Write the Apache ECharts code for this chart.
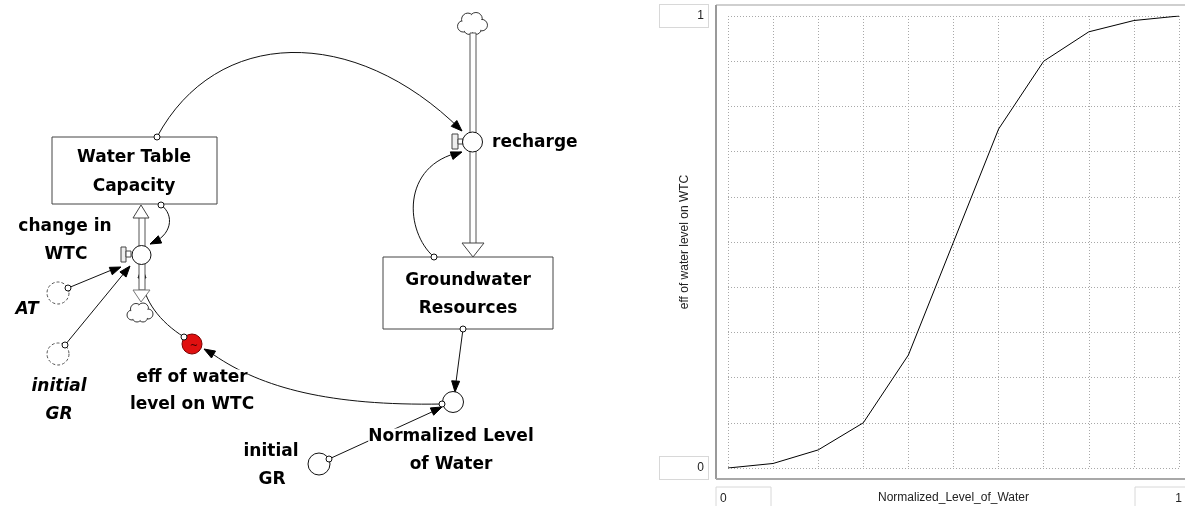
<!DOCTYPE html>
<html><head><meta charset="utf-8">
<script src="https://cdn.jsdelivr.net/npm/echarts@6/dist/echarts.min.js"></script>
<style>html,body{margin:0;padding:0;background:#fff}#c{width:1185px;height:506px}</style>
</head><body><div id="c"></div>
<script>
// ---- data (graphical function "eff of water level on WTC") ----
const normalizedLevel = [0, 0.1, 0.2, 0.3, 0.4, 0.5, 0.6, 0.7, 0.8, 0.9, 1.0];
const effOnWTC = [0.0, 0.01, 0.04, 0.10, 0.25, 0.50, 0.75, 0.90, 0.965, 0.99, 1.0];
const yTickLabels = ['0', '1'];
const xTickLabels = ['0', '1'];
const xAxisTitle = 'Normalized_Level_of_Water';
const yAxisTitle = 'eff of water level on WTC';
// ---- diagram labels ----
const stockLabels = [['Water Table', 'Capacity'], ['Groundwater', 'Resources']];
const flowLabels = [['change in', 'WTC'], ['recharge']];
const auxLabels = [['AT'], ['initial', 'GR'], ['eff of water', 'level on WTC'], ['initial', 'GR'], ['Normalized Level', 'of Water']];

const chart = echarts.init(document.getElementById('c'), null, {renderer: 'canvas'});
const axisFont = {fontFamily: 'Liberation Sans', fontSize: 12, color: '#222'};
const split = {show: true, lineStyle: {type: [1, 2], color: '#a8a8a8', width: 1}};
chart.setOption({
  animation: false,
  backgroundColor: '#fff',
  grid: {left: 728, top: 16, width: 451, height: 452, outerBoundsMode: 'none', containLabel: false},
  xAxis: {type: 'value', min: 0, max: 1, interval: 0.1, name: xAxisTitle, nameLocation: 'middle', nameGap: 24, nameMoveOverlap: false,
    nameTextStyle: axisFont, axisLine: {show: false}, axisTick: {show: false}, axisLabel: {show: false}, splitLine: split},
  yAxis: {type: 'value', min: 0, max: 1, interval: 0.1, name: yAxisTitle, nameLocation: 'middle', nameGap: 37, nameRotate: 90, nameMoveOverlap: false,
    nameTextStyle: axisFont, axisLine: {show: false}, axisTick: {show: false}, splitLine: split,
    axisLabel: {show: true, margin: 20,
      formatter: v => (Math.abs(v) < 1e-9 ? '{b|' + yTickLabels[0] + '}' : (Math.abs(v - 1) < 1e-9 ? '{b|' + yTickLabels[1] + '}' : '')),
      rich: {b: {width: 40, height: 16, padding: [3, 4, 3, 4], align: 'right', borderColor: '#d8d8d8', borderWidth: 1,
        backgroundColor: '#fff', fontFamily: 'Liberation Sans', fontSize: 12, color: '#222'}}}},
  series: [{type: 'line', data: normalizedLevel.map((x, i) => [x, effOnWTC[i]]), showSymbol: false, silent: true,
    lineStyle: {color: '#000', width: 1}}]
});

// ---- graphic helpers ----
const g = [];
function ln(x1, y1, x2, y2, w, c) { g.push({type: 'line', shape: {x1, y1, x2, y2}, style: {stroke: c || '#111', lineWidth: w || 1}}); }
function circ(cx, cy, r, st) { g.push({type: 'circle', shape: {cx, cy, r}, style: Object.assign({fill: '#fff', stroke: '#111', lineWidth: 1}, st || {})}); }
function rect(x, y, w, h, st) { g.push({type: 'rect', shape: {x, y, width: w, height: h}, style: Object.assign({fill: '#fff', stroke: '#333', lineWidth: 1}, st || {})}); }
function bez(p0, p1, p2, p3) { g.push({type: 'bezierCurve', shape: {x1: p0[0], y1: p0[1], cpx1: p1[0], cpy1: p1[1], cpx2: p2[0], cpy2: p2[1], x2: p3[0], y2: p3[1]}, style: {stroke: '#111', lineWidth: 1, fill: null}}); }
function head(x, y, fx, fy, len, wid) {
  len = len || 11; wid = wid || 8;
  const dx = x - fx, dy = y - fy, L = Math.hypot(dx, dy), ux = dx / L, uy = dy / L;
  const bx = x - ux * len, by = y - uy * len, px = -uy * wid / 2, py = ux * wid / 2;
  g.push({type: 'polygon', shape: {points: [[x, y], [bx + px, by + py], [bx - px, by - py]]}, style: {fill: '#000', stroke: '#000'}});
}
function poly(pts, st) { g.push({type: 'polygon', shape: {points: pts}, style: Object.assign({fill: '#fff', stroke: '#333', lineWidth: 1}, st || {})}); }
function txt(x, y, s, opt) {
  const st = Object.assign({text: s, font: 'bold 17px "DejaVu Sans"', fill: '#000', align: 'center', verticalAlign: 'middle'}, opt || {});
  st.textAlign = st.align; st.textVerticalAlign = st.verticalAlign;
  g.push({type: 'text', x, y, style: st});
}
function cloud(cx, cy, s) {
  const bumps = [[-8, 2, 5], [-4, -4, 5.5], [3, -4.5, 5.5], [8, 1, 5], [3, 4.5, 4.5], [-3, 4.5, 4.5]];
  bumps.forEach(b => circ(cx + b[0] * s, cy + b[1] * s, b[2] * s, {stroke: '#333'}));
  bumps.forEach(b => circ(cx + b[0] * s, cy + b[1] * s, b[2] * s - 1, {stroke: null, fill: '#fff'}));
  circ(cx, cy, 5 * s, {stroke: null, fill: '#fff'});
}
const ital = {font: 'italic bold 17px "DejaVu Sans"'};

// ---- chart frame ----
ln(716, 5, 1185, 5, 2, '#cfcfcf');
ln(716, 5, 716, 479, 2, '#9a9a9a');
ln(716, 479, 1185, 479, 2, '#a8a8a8');

// ---- connectors (drawn first, under nodes) ----
// Water Table Capacity -> recharge
bez([157, 137], [216, 27], [354, 24], [461, 130]); head(462, 131, 440, 110);
// Water Table Capacity -> change in WTC
bez([161, 205], [175, 215], [172, 236], [150, 244]); head(150, 244, 163, 238);
// Groundwater -> recharge
bez([434, 257], [405, 232], [400, 165], [461, 152]); head(462, 152, 445, 158);
// AT -> change in WTC
ln(68, 288, 114, 269); head(121, 267, 68, 288);
// initial GR -> change in WTC
ln(65, 345, 125, 272); head(130, 266, 65, 345);
// eff -> change in WTC
bez([184, 337], [160, 322], [143, 300], [142, 277]); head(142, 267, 142, 285);
// Normalized Level -> eff
bez([442, 404], [330, 406], [262, 388], [214, 355]); head(204, 349, 216, 356);
// initial GR -> Normalized Level
ln(329, 459, 434, 411); head(442, 407, 420, 417);
// Groundwater -> Normalized Level
ln(463, 329, 456, 382); head(455, 392, 456, 375);

// ---- stocks ----
rect(52, 137, 165, 67, {stroke: '#444'});
rect(383, 257, 170, 72, {stroke: '#444'});
txt(134, 158, stockLabels[0][0]); txt(134, 187, stockLabels[0][1]);
txt(468, 281, stockLabels[1][0]); txt(468, 309, stockLabels[1][1]);

// ---- recharge flow ----
cloud(472.5, 24, 1.15);
rect(470, 33, 6, 211, {stroke: '#555'});
poly([[462, 243], [484, 243], [473, 257]], {stroke: '#444'});
rect(452, 134, 6, 15, {stroke: '#444', fill: '#eee'});
rect(458, 139, 5, 5, {stroke: '#444'});
circ(472.5, 142, 10);
txt(492, 143, flowLabels[1][0], {align: 'left'});

// ---- change in WTC flow ----
rect(139, 217, 6, 73, {stroke: '#555'});
poly([[133, 218], [149, 218], [141, 205]], {stroke: '#444'});
poly([[133, 290], [150, 290], [141, 302]], {stroke: '#777'});
cloud(140, 313, 1.0);
rect(121, 247, 5, 15, {stroke: '#444', fill: '#eee'});
rect(126, 251, 5, 6, {stroke: '#444'});
circ(141.5, 255, 9.5);
txt(65, 227, flowLabels[0][0]); txt(66, 255, flowLabels[0][1]);

// ---- auxiliaries ----
circ(58, 293, 11, {lineDash: [3, 2], stroke: '#555'});
circ(58, 354, 11, {lineDash: [3, 2], stroke: '#555'});
circ(192, 344, 10, {fill: '#e01010', stroke: '#7a0000'});
txt(194, 346, '~', {font: '10px "DejaVu Sans"', fill: '#400'});
circ(453, 402, 10.5);
circ(319, 464, 11);
// connector origins
[[157, 137], [161, 205], [434, 257], [68, 288], [65, 345], [184, 337], [442, 404], [329, 459], [463, 329]].forEach(p => circ(p[0], p[1], 3, {lineWidth: 1}));

txt(27, 310, auxLabels[0][0], ital);
txt(59, 387, auxLabels[1][0], ital); txt(59, 415, auxLabels[1][1], ital);
txt(192, 378, auxLabels[2][0], {backgroundColor: '#fff'}); txt(192, 405, auxLabels[2][1]);
txt(271, 452, auxLabels[3][0]); txt(272, 480, auxLabels[3][1]);
txt(451, 437, auxLabels[4][0], {backgroundColor: '#fff'}); txt(451, 465, auxLabels[4][1]);

// ---- x tick label boxes, positioned from the axis scale ----
const p0 = chart.convertToPixel({gridIndex: 0}, [0, 0]);
const p1 = chart.convertToPixel({gridIndex: 0}, [1, 0]);
rect(p0[0] - 12, p0[1] + 19, 55, 24, {stroke: '#d8d8d8'});
txt(p0[0] - 8, p0[1] + 31, xTickLabels[0], {font: '12px "Liberation Sans"', fill: '#222', align: 'left'});
rect(p1[0] - 44, p1[1] + 19, 55, 24, {stroke: '#d8d8d8'});
txt(p1[0] + 3, p1[1] + 31, xTickLabels[1], {font: '12px "Liberation Sans"', fill: '#222', align: 'right'});

chart.setOption({graphic: g.map((e, i) => Object.assign({id: 'e' + i, silent: true}, e))});
</script></body></html>
